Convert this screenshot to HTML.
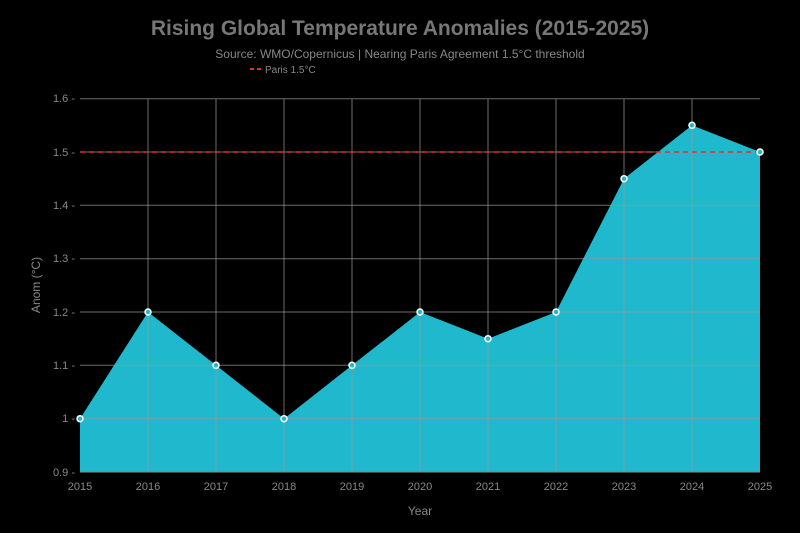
<!DOCTYPE html>
<html><head><style>body{margin:0;background:#000}svg{display:block}</style></head><body>
<svg width="800" height="533" xmlns="http://www.w3.org/2000/svg" font-family="Liberation Sans, sans-serif">
<rect width="800" height="533" fill="#000"/>
<text x="400" y="35" text-anchor="middle" font-size="21" font-weight="bold" fill="#777">Rising Global Temperature Anomalies (2015-2025)</text>
<text x="400" y="58" text-anchor="middle" font-size="12" fill="#888">Source: WMO/Copernicus | Nearing Paris Agreement 1.5°C threshold</text>
<line x1="250" y1="69" x2="262" y2="69" stroke="#e03030" stroke-width="2" stroke-dasharray="4,3"/>
<text x="265" y="73" font-size="10" fill="#888">Paris 1.5°C</text>
<polygon fill="#20b8cc" points="80,472 80,418.7 148,312 216,365.3 284,418.7 352,365.3 420,312 488,338.7 556,312 624,178.7 692,125.3 760,152 760,472"/>
<g stroke="#999" stroke-opacity="0.7" stroke-width="1">
<line x1="80" y1="98.7" x2="760" y2="98.7"/><line x1="80" y1="152" x2="760" y2="152"/><line x1="80" y1="205.3" x2="760" y2="205.3"/><line x1="80" y1="258.7" x2="760" y2="258.7"/><line x1="80" y1="312" x2="760" y2="312"/><line x1="80" y1="365.3" x2="760" y2="365.3"/><line x1="80" y1="418.7" x2="760" y2="418.7"/>
<line x1="148" y1="98.7" x2="148" y2="472"/><line x1="216" y1="98.7" x2="216" y2="472"/><line x1="284" y1="98.7" x2="284" y2="472"/><line x1="352" y1="98.7" x2="352" y2="472"/><line x1="420" y1="98.7" x2="420" y2="472"/><line x1="488" y1="98.7" x2="488" y2="472"/><line x1="556" y1="98.7" x2="556" y2="472"/><line x1="624" y1="98.7" x2="624" y2="472"/><line x1="692" y1="98.7" x2="692" y2="472"/>
</g>
<line x1="80" y1="472" x2="760" y2="472" stroke="#888"/>
<line x1="80" y1="152" x2="760" y2="152" stroke="#e03030" stroke-width="1.5" stroke-dasharray="5,4"/>
<g fill="#20b8cc" stroke="#fff" stroke-width="1.5">
<circle cx="80" cy="418.7" r="3"/><circle cx="148" cy="312" r="3"/><circle cx="216" cy="365.3" r="3"/><circle cx="284" cy="418.7" r="3"/><circle cx="352" cy="365.3" r="3"/><circle cx="420" cy="312" r="3"/><circle cx="488" cy="338.7" r="3"/><circle cx="556" cy="312" r="3"/><circle cx="624" cy="178.7" r="3"/><circle cx="692" cy="125.3" r="3"/><circle cx="760" cy="152" r="3"/>
</g>
<g font-size="11" fill="#888" text-anchor="end">
<text x="75" y="102">1.6 -</text><text x="75" y="156">1.5 -</text><text x="75" y="209">1.4 -</text><text x="75" y="262">1.3 -</text><text x="75" y="316">1.2 -</text><text x="75" y="369">1.1 -</text><text x="75" y="422">1 -</text><text x="75" y="476">0.9 -</text>
</g>
<g font-size="11" fill="#888" text-anchor="middle">
<text x="80" y="490">2015</text><text x="148" y="490">2016</text><text x="216" y="490">2017</text><text x="284" y="490">2018</text><text x="352" y="490">2019</text><text x="420" y="490">2020</text><text x="488" y="490">2021</text><text x="556" y="490">2022</text><text x="624" y="490">2023</text><text x="692" y="490">2024</text><text x="760" y="490">2025</text>
</g>
<text x="420" y="515" text-anchor="middle" font-size="12" fill="#888">Year</text>
<text transform="translate(40,285) rotate(-90)" text-anchor="middle" font-size="12" fill="#888">Anom (°C)</text>
</svg>
</body></html>
